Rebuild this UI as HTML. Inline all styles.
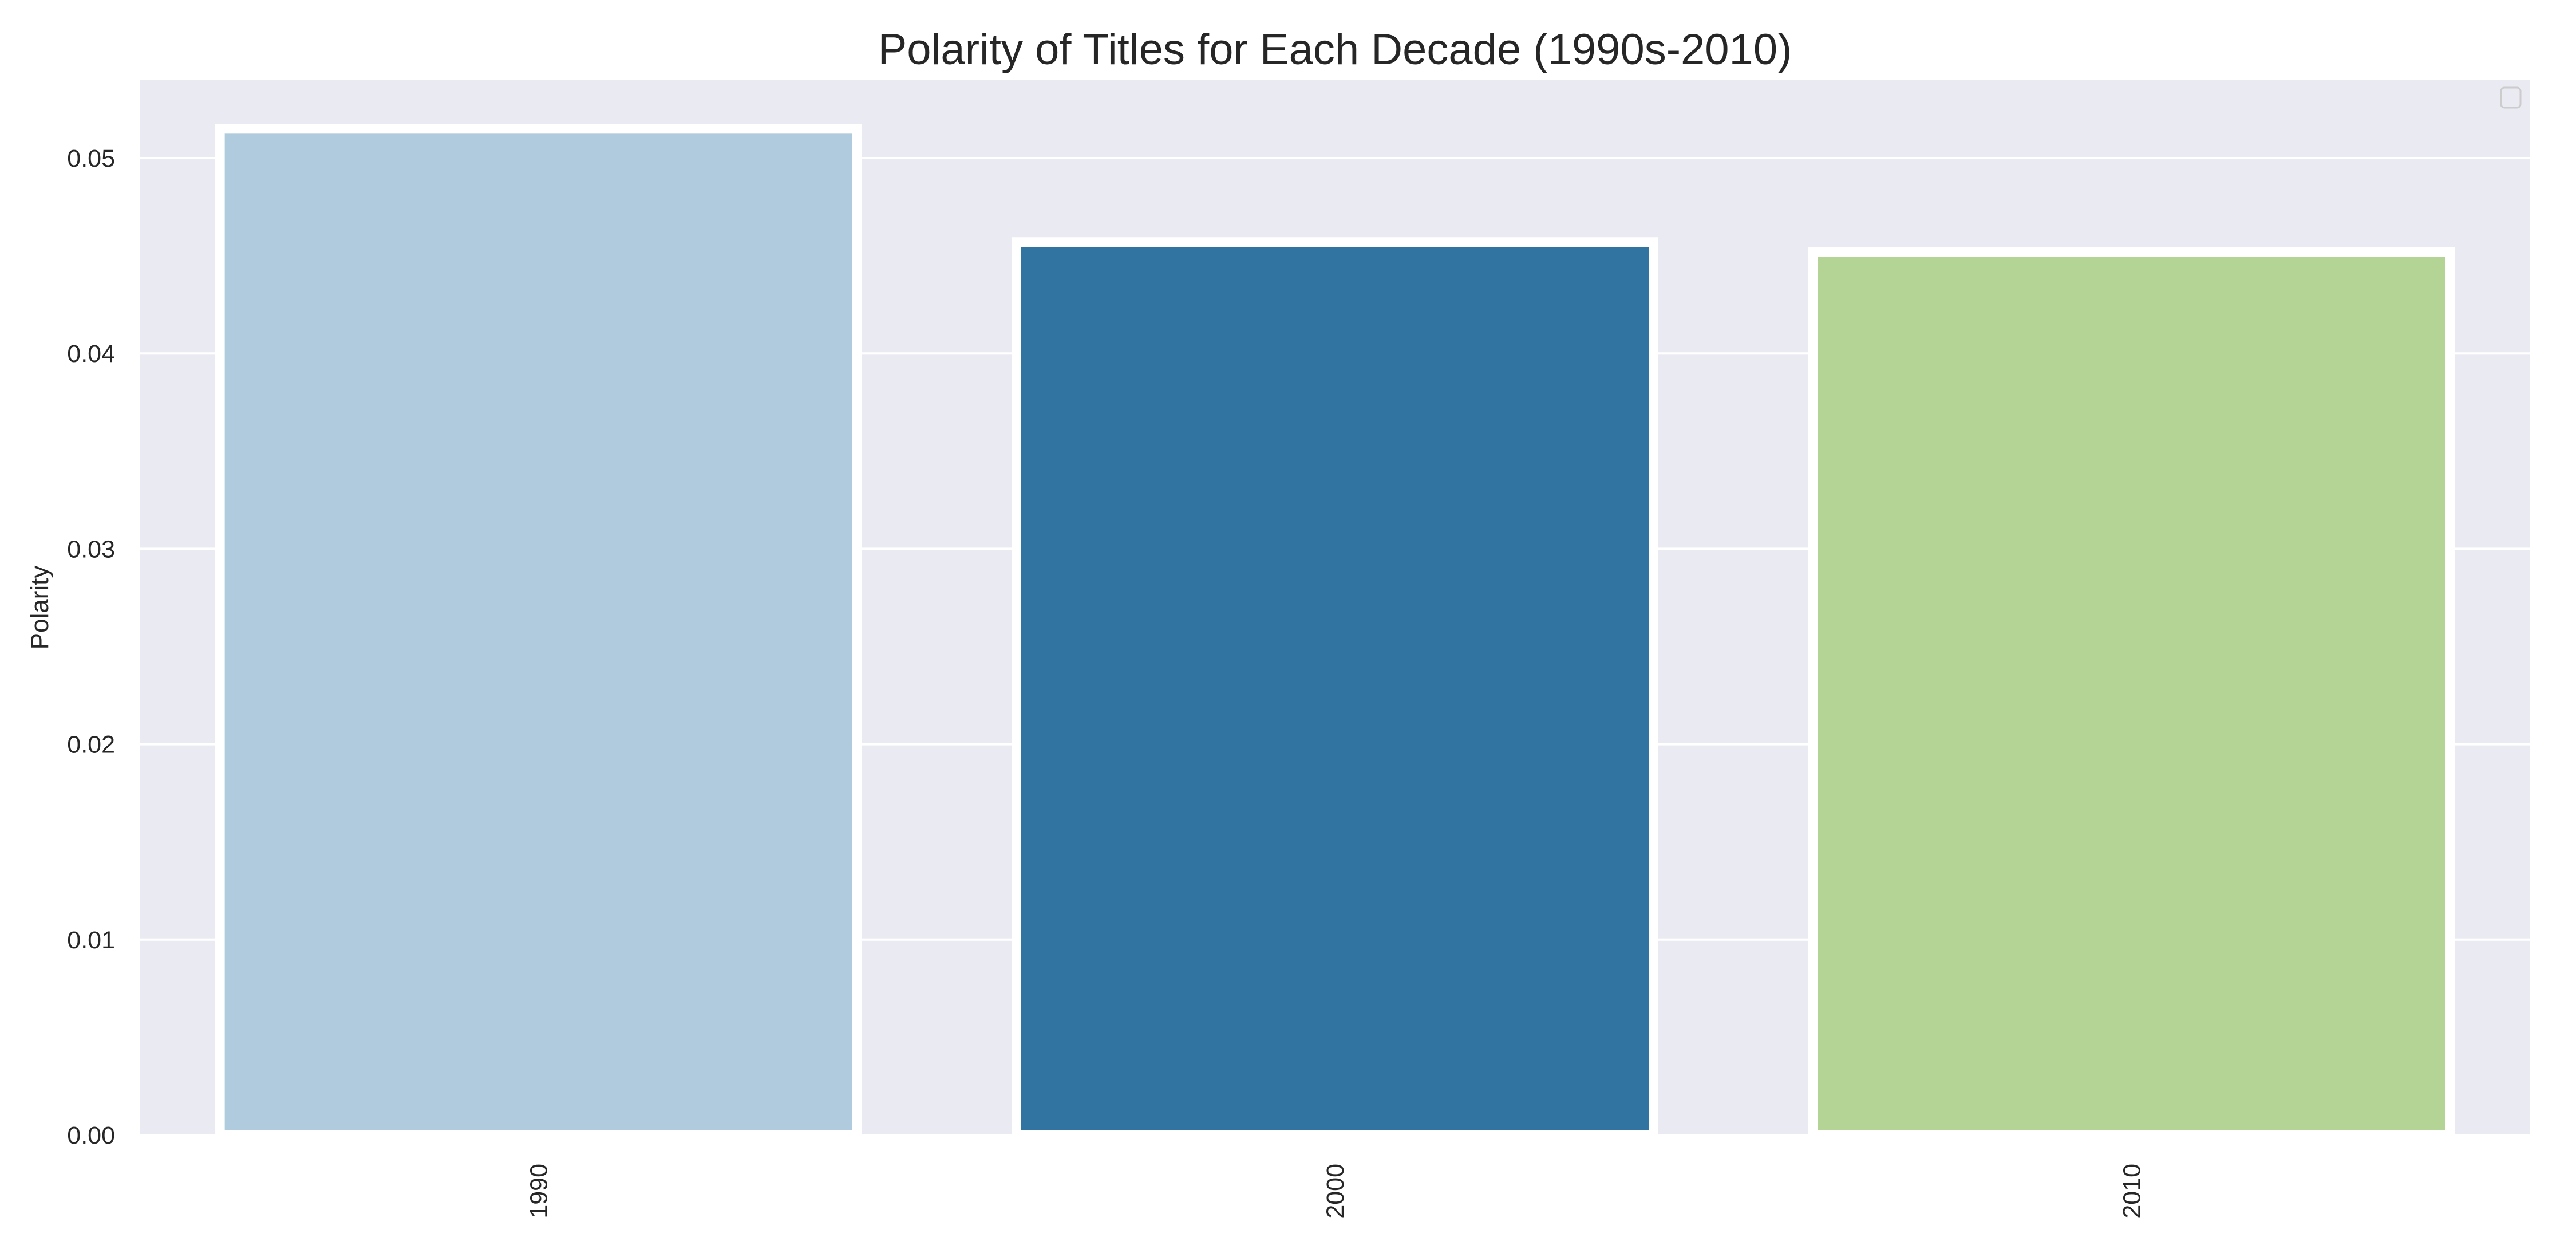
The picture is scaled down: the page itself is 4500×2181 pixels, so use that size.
<!DOCTYPE html>
<html><head><meta charset="utf-8"><style>
html,body{margin:0;padding:0;background:#fff;}
svg{display:block;font-family:"Liberation Sans",sans-serif;}
</style></head><body>
<svg id="chart" width="4500" height="2181" viewBox="0 0 4500 2181" xmlns="http://www.w3.org/2000/svg">
<text x="2332" y="112" font-size="76" text-anchor="middle" fill="#262626">Polarity of Titles for Each Decade (1990s-2010)</text>
<rect x="245" y="140" width="4174" height="1842" fill="#eaeaf2"/>
<g id="grid"></g>
<g id="bars"></g>
<g id="yticks"></g>
<g id="xticks"></g>
<text transform="translate(84,1061) rotate(-90)" font-size="44" text-anchor="middle" fill="#262626">Polarity</text>
<rect x="4369" y="153" width="34" height="35" rx="6" fill="#eaeaf2" stroke="#cccccc" stroke-width="3"/>
</svg>
<script>
const categories = ["1990", "2000", "2010"];
const values = [0.0515, 0.0457, 0.0452];
const colors = ["#b0cbde", "#3274a1", "#b3d495"];
const yTicks = [0, 0.01, 0.02, 0.03, 0.04, 0.05];
const yTickLabels = ["0.00", "0.01", "0.02", "0.03", "0.04", "0.05"];

const NS = "http://www.w3.org/2000/svg";
const L = 245, R = 4419, B = 1982, perUnit = 34120;
function y(v){ return B - v * perUnit; }
function xc(i){ const w = (R - L) / categories.length; return L + w * (i + 0.5); }
const band = (R - L) / categories.length;

const grid = document.getElementById('grid');
const yt = document.getElementById('yticks');
yTicks.forEach((t, i) => {
  const ln = document.createElementNS(NS, 'line');
  ln.setAttribute('x1', L); ln.setAttribute('x2', R);
  ln.setAttribute('y1', y(t)); ln.setAttribute('y2', y(t));
  ln.setAttribute('stroke', '#ffffff'); ln.setAttribute('stroke-width', '4');
  
  
  grid.appendChild(ln);
  const tx = document.createElementNS(NS, 'text');
  tx.setAttribute('x', 201); tx.setAttribute('y', y(t) + 15);
  tx.setAttribute('font-size', '43'); tx.setAttribute('text-anchor', 'end');
  tx.setAttribute('fill', '#262626');
  tx.textContent = yTickLabels[i];
  
  
  yt.appendChild(tx);
});

const bars = document.getElementById('bars');
const xt = document.getElementById('xticks');
categories.forEach((c, i) => {
  const w = band * 0.8;
  const r = document.createElementNS(NS, 'rect');
  r.setAttribute('x', xc(i) - w / 2);
  r.setAttribute('y', y(values[i]));
  r.setAttribute('width', w);
  r.setAttribute('height', B - y(values[i]));
  r.setAttribute('fill', colors[i]);
  r.setAttribute('stroke', '#ffffff'); r.setAttribute('stroke-width', '17');
  
  
  bars.appendChild(r);
  const tx = document.createElementNS(NS, 'text');
  tx.setAttribute('transform', 'translate(' + (xc(i) + 15) + ',2032) rotate(-90)');
  tx.setAttribute('font-size', '43'); tx.setAttribute('text-anchor', 'end');
  tx.setAttribute('fill', '#262626');
  tx.textContent = c;
  
  
  xt.appendChild(tx);
});
</script>
</body></html>
